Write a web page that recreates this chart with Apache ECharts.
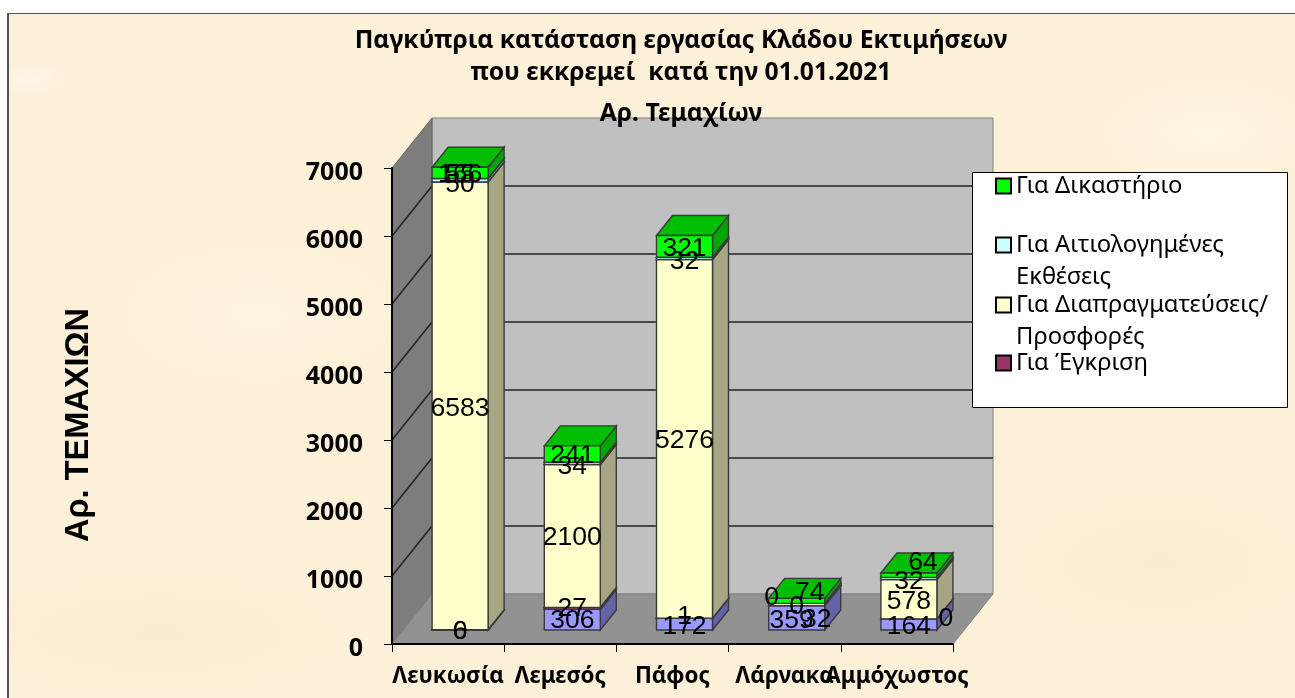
<!DOCTYPE html>
<html>
<head>
<meta charset="utf-8">
<script src="https://cdn.jsdelivr.net/npm/echarts@6/dist/echarts.min.js"></script>
<style>
    html, body { margin: 0; padding: 0; background: #fff; overflow: hidden; }
    #paper {
        position: absolute; left: 7px; top: 13px; width: 1288px; height: 685px;
        border-left: 2px solid #555; border-top: 1px solid #555; box-sizing: border-box;
        background-color: #fdf0d8;
        background-image:
            radial-gradient(ellipse 40px 18px at 20px 65px, #fef4e8, transparent),
            radial-gradient(ellipse 120px 60px at 1200px 120px, #fef4e2, transparent),
            radial-gradient(ellipse 160px 80px at 250px 300px, #fef3de, transparent),
            radial-gradient(ellipse 150px 70px at 1150px 550px, #fbeccf, transparent),
            radial-gradient(ellipse 200px 60px at 150px 620px, #fbecd0, transparent);
    }
    #main { position: absolute; left: 0; top: 0; width: 1295px; height: 698px; }
</style>
</head>
<body>
<div id="paper"></div>
<div id="main"></div>
<script>
var categories = ["Λευκωσία", "Λεμεσός", "Πάφος", "Λάρνακα", "Αμμόχωστος"];
var yTicks = [1000, 2000, 3000, 4000, 5000, 6000, 7000];

var gia_ektimisi = [0, 306, 172, 359, 164];
var gia_egkrisi = [6, 27, 1, 0, 0];
var gia_diapragmatefseis = [6583, 2100, 5276, 32, 578];
var gia_aitiologimenes = [50, 34, 32, 0, 32];
var gia_dikastirio = [166, 241, 321, 74, 64];
// one more number sits on top of the 166 in the picture, no visible segment for it
var extraLabel = [0, 55];

// moved labels, [dx, dy] from the middle of the segment
var ektimisiOffsets = [[0, 0], [0, 0], [0, 1], [-5, 1], [0, 1]];
var egkrisiOffsets = [[0, 0], [0, -1], [0, -3], [0, 0], [37, -2]];
var diapragmOffsets = [[0, 1], [0, 0], [0, 0], [20, 14], [0, 1]];
var aitiolOffsets = [[0, 3], [0, 2], [0, 2], [-25, -7], [0, 2]];
var dikastirioOffsets = [[0, 0], [0, 0], [0, 1], [13, -10], [14, -14]];

// depth of the fake 3d box, in pixels
var WALL_DX = 40, WALL_DY = -50;
var BAR_OFF_X = 12, BAR_OFF_Y = -14;
var BAR_DX = 16, BAR_DY = -20, BAR_W = 56;
var LABEL_FONT = "26.5px 'Liberation Sans'";
var LABEL_NUDGE = 1.5;

var chart = echarts.init(document.getElementById("main"));

var stackTop = categories.map(function () { return 0; });

function makeSegments(name, values, offsets, front, side, top) {
    var rows = values.map(function (v, i) {
        var row = [i, stackTop[i], stackTop[i] + v, v, offsets[i][0], offsets[i][1]];
        stackTop[i] += v;
        return row;
    });
    return {
        name: name,
        type: "custom",
        data: rows,
        itemStyle: { color: front },
        encode: { x: 0, y: [1, 2] },
        z: 3,
        renderItem: function (params, api) {
            var low = api.coord([api.value(0), api.value(1)]);
            var high = api.coord([api.value(0), api.value(2)]);
            var x = low[0] - BAR_W / 2 + BAR_OFF_X;
            var y0 = low[1] + BAR_OFF_Y;
            var y1 = high[1] + BAR_OFF_Y;
            var edge = { stroke: "#3a3a3a", lineWidth: 1.4 };
            return {
                type: "group",
                children: [
                    {
                        type: "polygon",
                        shape: { points: [[x + BAR_W, y0], [x + BAR_W + BAR_DX, y0 + BAR_DY], [x + BAR_W + BAR_DX, y1 + BAR_DY], [x + BAR_W, y1]] },
                        style: Object.assign({ fill: side }, edge)
                    },
                    {
                        type: "polygon",
                        shape: { points: [[x, y1], [x + BAR_DX, y1 + BAR_DY], [x + BAR_W + BAR_DX, y1 + BAR_DY], [x + BAR_W, y1]] },
                        style: Object.assign({ fill: top }, edge)
                    },
                    {
                        type: "rect",
                        shape: { x: x, y: y1, width: BAR_W, height: y0 - y1 },
                        style: Object.assign({ fill: front }, edge)
                    },
                    {
                        type: "text",
                        z2: 100,
                        style: {
                            text: String(api.value(3)),
                            x: x + BAR_W / 2 + api.value(4),
                            y: (y0 + y1) / 2 + api.value(5) + LABEL_NUDGE,
                            fill: "#000",
                            font: LABEL_FONT,
                            align: "center",
                            verticalAlign: "middle"
                        }
                    }
                ]
            };
        }
    };
}

var wallSeries = {
    name: "walls",
    type: "custom",
    data: yTicks.map(function (t) { return [0, t]; }),
    encode: { x: 0, y: 1 },
    z: 1,
    silent: true,
    renderItem: function (params, api) {
        var cs = params.coordSys;
        var left = cs.x, right = cs.x + cs.width, topY = cs.y, floorY = cs.y + cs.height;
        var y = api.coord([0, api.value(1)])[1];
        var line = { stroke: "#222", lineWidth: 1.5 };
        var wallEdge = { stroke: "#808080", lineWidth: 1 };
        var kids = [];
        if (params.dataIndex === 0) {
            kids.push(
                { type: "rect", shape: { x: left + WALL_DX, y: topY + WALL_DY, width: cs.width, height: cs.height }, style: Object.assign({ fill: "#c0c0c0" }, wallEdge) },
                { type: "polygon", shape: { points: [[left, topY], [left + WALL_DX, topY + WALL_DY], [left + WALL_DX, floorY + WALL_DY], [left, floorY]] }, style: { fill: "#7d7d7d", stroke: "#666", lineWidth: 1 } },
                { type: "polygon", shape: { points: [[left, floorY], [left + WALL_DX, floorY + WALL_DY], [right + WALL_DX, floorY + WALL_DY], [right, floorY]] }, style: Object.assign({ fill: "#929292" }, wallEdge) }
            );
        }
        if (y > topY + 1) {
            kids.push({ type: "line", shape: { x1: left + WALL_DX, y1: y + WALL_DY, x2: right + WALL_DX, y2: y + WALL_DY }, style: line });
            kids.push({ type: "line", shape: { x1: left, y1: y, x2: left + WALL_DX, y2: y + WALL_DY }, style: line });
        }
        return { type: "group", children: kids };
    }
};

var barSeries = [
    makeSegments("Για Εκτίμηση", gia_ektimisi, ektimisiOffsets, "#9999ff", "#6363a6", "#7373bf"),
    makeSegments("Για Έγκριση", gia_egkrisi, egkrisiOffsets, "#993366", "#632142", "#73264d"),
    makeSegments("Για Διαπραγματεύσεις/\nΠροσφορές", gia_diapragmatefseis, diapragmOffsets, "#ffffcc", "#a6a685", "#bfbf99"),
    makeSegments("Για Αιτιολογημένες\nΕκθέσεις", gia_aitiologimenes, aitiolOffsets, "#ccffff", "#85a6a6", "#99bfbf"),
    makeSegments("Για Δικαστήριο", gia_dikastirio, dikastirioOffsets, "#00ff00", "#00a600", "#00bf00")
];

var extraSeries = {
    name: "extra",
    type: "custom",
    silent: true,
    z: 4,
    data: [[extraLabel[0], stackTop[extraLabel[0]] - gia_dikastirio[extraLabel[0]] / 2, extraLabel[1]]],
    encode: { x: 0, y: 1 },
    renderItem: function (params, api) {
        var p = api.coord([api.value(0), api.value(1)]);
        return {
            type: "text",
            style: {
                text: String(api.value(2)),
                x: p[0] + BAR_OFF_X,
                y: p[1] + BAR_OFF_Y + LABEL_NUDGE,
                fill: "#000",
                font: LABEL_FONT,
                align: "center",
                verticalAlign: "middle"
            }
        };
    }
};

// the legend swatch sits on the first line, so a blank line goes in front of two line names
function legendItem(name, color, y, lines) {
    return {
        data: [{ name: name, icon: "rect", itemStyle: { color: color, borderColor: "#000", borderWidth: 2 } }],
        orient: "vertical",
        left: 995,
        top: lines === 2 ? y - 48 : y - 16,
        padding: 0,
        itemWidth: 15,
        itemHeight: 15,
        selectedMode: false,
        formatter: function (n) { return lines === 2 ? "\n" + n : n; },
        textStyle: {
            fontFamily: "Noto Sans",
            fontSize: 23.8,
            lineHeight: 32,
            color: "#000"
        }
    };
}

function titleLine(text, top) {
    return {
        text: text,
        left: 681,
        top: top,
        textAlign: "center",
        padding: 0,
        textStyle: { fontFamily: "Noto Sans", fontSize: 24.7, fontWeight: "bold", color: "#000" }
    };
}

chart.setOption({
    animation: false,
    backgroundColor: "transparent",
    title: [
        titleLine("Παγκύπρια κατάσταση εργασίας Κλάδου Εκτιμήσεων", 28),
        titleLine("που εκκρεμεί  κατά την 01.01.2021", 60),
        titleLine("Αρ. Τεμαχίων", 101)
    ],
    graphic: [{
        type: "rect",
        z: 3,
        shape: { x: 972.5, y: 172.5, width: 315, height: 235 },
        style: { fill: "#fff", stroke: "#000", lineWidth: 1 }
    }],
    legend: [
        legendItem("Για Δικαστήριο", "#00ff00", 186, 1),
        legendItem("Για Αιτιολογημένες\nΕκθέσεις", "#ccffff", 245, 2),
        legendItem("Για Διαπραγματεύσεις/\nΠροσφορές", "#ffffcc", 305, 2),
        legendItem("Για Έγκριση", "#993366", 363, 1)
    ],
    grid: { left: 392, width: 561, top: 168, height: 476 },
    xAxis: {
        type: "category",
        data: categories,
        z: 5,
        axisLine: { lineStyle: { color: "#000", width: 2 } },
        axisTick: { show: true, alignWithLabel: false, length: 8, lineStyle: { color: "#000" } },
        axisLabel: {
            interval: 0,
            margin: 22,
            hideOverlap: false,
            color: "#000",
            fontFamily: "Noto Sans",
            fontSize: 22.4,
            fontWeight: "bold"
        },
        splitLine: { show: false }
    },
    yAxis: {
        type: "value",
        min: 0,
        max: 7000,
        interval: 1000,
        z: 5,
        name: "Αρ. ΤΕΜΑΧΙΩΝ",
        nameLocation: "middle",
        nameGap: 296,
        nameRotate: 90,
        nameTextStyle: {
            color: "#000",
            fontFamily: "Liberation Sans",
            fontSize: 32.5,
            fontWeight: "bold",
            padding: [0, 38, 0, 0]
        },
        axisLine: { show: true, lineStyle: { color: "#000", width: 2 } },
        axisTick: { show: true, length: 8, lineStyle: { color: "#000" } },
        axisLabel: {
            margin: 29,
            color: "#000",
            fontFamily: "Noto Sans",
            fontSize: 25,
            fontWeight: "bold",
            verticalAlign: "top",
            lineHeight: 10,
            formatter: function (v) { return String(v); }
        },
        splitLine: { show: false }
    },
    series: [wallSeries].concat(barSeries, [extraSeries])
});
</script>
</body>
</html>
